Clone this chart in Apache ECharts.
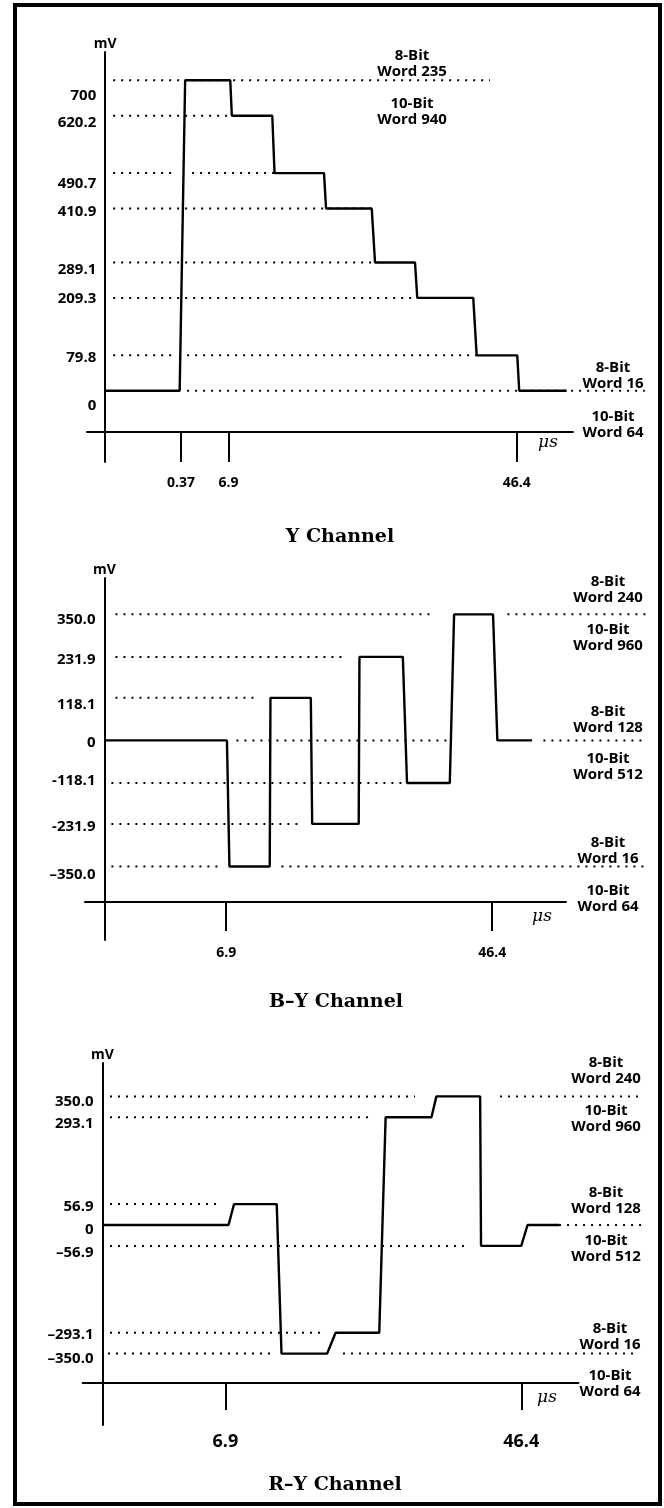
<!DOCTYPE html>
<html><head><meta charset="utf-8">
<script src="https://cdn.jsdelivr.net/npm/echarts@6/dist/echarts.min.js"></script>
<style>html,body{margin:0;padding:0;background:#fff}#c{width:664px;height:1508px}</style>
</head><body><div id="c"></div>
<script>
// ===== Y channel =====
const yTicks = [0.37, 6.9, 46.4];
const yTickLabels = ['0.37', '6.9', '46.4'];
const yLevels = [700, 620.2, 490.7, 410.9, 289.1, 209.3, 79.8, 0];
const yLevelLabels = ['700', '620.2', '490.7', '410.9', '289.1', '209.3', '79.8', '0'];
const yWaveT = [-10, 0.2, 0.95, 7.13, 7.35, 12.89, 13.2, 19.98, 20.26, 26.52, 26.97, 32.45, 32.76, 40.43, 40.9, 46.46, 46.73, 53.23];
const yWaveV = [0, 0, 700, 700, 620.2, 620.2, 490.7, 490.7, 410.9, 410.9, 289.1, 289.1, 209.3, 209.3, 79.8, 79.8, 0, 0];
const yDotV = [700, 620.2, 490.7, 490.7, 410.9, 289.1, 209.3, 79.8, 79.8, 0];
const yDotStart = [-8.92, -8.92, -8.92, 1.9, -8.92, -8.92, -8.92, -8.92, 1.22, 1.22];
const yDotEnd = [42.73, 7.38, -0.84, 20.26, 26.56, 26.97, 32.86, -0.7, 40.94, 63.95];
const yNotes = ['8-Bit\nWord 235', '10-Bit\nWord 940', '8-Bit\nWord 16', '10-Bit\nWord 64'];

// ===== B-Y channel =====
const byTicks = [6.9, 46.4];
const byTickLabels = ['6.9', '46.4'];
const byLevels = [350, 231.9, 118.1, 0, -118.1, -231.9, -350];
const byLevelLabels = ['350.0', '231.9', '118.1', '0', '-118.1', '-231.9', '\u2013350.0'];
const byWaveT = [-11.16, 7.02, 7.39, 13.37, 13.48, 19.47, 19.67, 26.58, 26.69, 33.13, 33.75, 40.1, 40.74, 46.52, 47.16, 52.31];
const byWaveV = [0, 0, -350, -350, 118.1, 118.1, -231.9, -231.9, 231.9, 231.9, -118.1, -118.1, 350, 350, 0, 0];
const byDotV = [350, 350, 231.9, 118.1, 0, 0, -118.1, -231.9, -350, -350];
const byDotStart = [-9.53, 48.65, -9.53, -9.53, 8.43, 54.0, -10.13, -10.13, -10.13, 15.11];
const byDotEnd = [37.96, 69.43, 24.46, 11.55, 40.34, 69.43, 33.66, 18.23, 6.2, 69.43];
const byNotes = ['8-Bit\nWord 240', '10-Bit\nWord 960', '8-Bit\nWord 128', '10-Bit\nWord 512', '8-Bit\nWord 16', '10-Bit\nWord 64'];

// ===== R-Y channel =====
const ryTicks = [6.9, 46.4];
const ryTickLabels = ['6.9', '46.4'];
const ryLevels = [350, 293.1, 56.9, 0, -56.9, -293.1, -350];
const ryLevelLabels = ['350.0', '293.1', '56.9', '0', '\u201356.9', '\u2013293.1', '\u2013350.0'];
const ryWaveT = [-9.51, 7.31, 8.05, 13.75, 14.39, 20.48, 21.61, 27.44, 28.29, 34.41, 35.07, 40.91, 41.03, 46.4, 47.24, 51.49];
const ryWaveV = [0, 0, 56.9, 56.9, -350, -350, -293.1, -293.1, 293.1, 293.1, 350, 350, -56.9, -56.9, 0, 0];
const ryDotV = [350, 350, 293.1, 56.9, 0, -56.9, -293.1, -350, -350];
const ryDotStart = [-8.51, 43.57, -8.51, -8.51, 51.45, -8.51, -8.51, -8.78, 22.6];
const ryDotEnd = [32.22, 61.99, 26.34, 6.45, 62.53, 39.03, 19.8, 12.99, 61.99];
const ryNotes = ['8-Bit\nWord 240', '10-Bit\nWord 960', '8-Bit\nWord 128', '10-Bit\nWord 512', '8-Bit\nWord 16', '10-Bit\nWord 64'];

const titles = ['Y Channel', 'B\u2013Y Channel', 'R\u2013Y Channel'];
const unitX = '\u03bcs';
const unitY = 'mV';

// ===== layout (pixels) =====
const SANS = '"Open Sans", "DejaVu Sans", sans-serif';
const SERIF = '"DejaVu Serif", serif';
const EXT_RIGHT = 652;
const panels = [
  { ticks: yTicks, tickLabels: yTickLabels, levels: yLevels, levelLabels: yLevelLabels,
    waveT: yWaveT, waveV: yWaveV, dotV: yDotV, dotS: yDotStart, dotE: yDotEnd, notes: yNotes,
    top: 52, bottomPx: 462, axisPx: 432, left: 87, right: 573, xmin: -12.5, xmax: 54.1, yAt: -10,
    ymin: -160.7, ymax: 763.8, tickLen: 30, labMargin: 44, tickFont: 14,
    labShift: [15, 7, 11, 3.5, 7.5, 0.5, 2.7, 15],
    notePos: [[412, 64], [412, 112], [613, 376], [613, 425]], unitPos: [548, 443], titlePos: [340, 537] },
  { ticks: byTicks, tickLabels: byTickLabels, levels: byLevels, levelLabels: byLevelLabels,
    waveT: byWaveT, waveV: byWaveV, dotV: byDotV, dotS: byDotStart, dotE: byDotEnd, notes: byNotes,
    top: 578, bottomPx: 940, axisPx: 902, left: 85, right: 566, xmin: -14.05, xmax: 57.35, yAt: -11.16,
    ymin: -554.3, ymax: 451.0, tickLen: 29, labMargin: 44, tickFont: 14,
    labShift: [5.6, 3.1, 7, 2.6, -2.2, 2.8, 8.6],
    notePos: [[608, 590], [608, 638], [608, 720], [608, 767], [608, 851], [608, 899]], unitPos: [542, 917], titlePos: [336, 1002] },
  { ticks: ryTicks, tickLabels: ryTickLabels, levels: ryLevels, levelLabels: ryLevelLabels,
    waveT: ryWaveT, waveV: ryWaveV, dotV: ryDotV, dotS: ryDotStart, dotE: ryDotEnd, notes: ryNotes,
    top: 1063, bottomPx: 1425, axisPx: 1382.5, left: 82.6, right: 578.4, xmin: -12.17, xmax: 54.03, yAt: -9.51,
    ymin: -544.3, ymax: 440.9, tickLen: 27.5, labMargin: 50, tickFont: 18,
    labShift: [5.3, 6.7, 2.6, 4.3, 7.1, 2.3, 4.7],
    notePos: [[606, 1071], [606, 1119], [606, 1201], [606, 1249], [610, 1337], [610, 1384]], unitPos: [547, 1398], titlePos: [335, 1485] }
];

const grid = [], xAxis = [], yAxis = [], series = [], graphic = [];
const labFont = { fontSize: 15, fontWeight: 'bold', color: '#000', fontFamily: SANS };
panels.forEach((p, i) => {
  const w = p.right - p.left;
  const pxPerUnit = w / (p.xmax - p.xmin);
  const yAxisPx = p.left + (p.yAt - p.xmin) * pxPerUnit;
  const h = p.bottomPx - p.top;
  // visible axes grid
  grid.push({ left: p.left, top: p.top, width: w, height: h, containLabel: false, outerBoundsMode: 'none' });
  // drawing grid with the same scale, wider so marks may run past the axis end
  grid.push({ left: p.left, top: p.top, width: EXT_RIGHT - p.left, height: h, containLabel: false, outerBoundsMode: 'none' });
  const gA = 2 * i, gB = 2 * i + 1;
  const rich = {};
  p.labShift.forEach((s, k) => {
    rich['s' + k] = Object.assign({}, labFont, { padding: s >= 0 ? [2 * s, 0, 0, 0] : [0, 0, -2 * s, 0] });
  });
  xAxis.push({
    gridIndex: gA, type: 'value', min: p.xmin, max: p.xmax, offset: -(p.bottomPx - p.axisPx),
    axisLine: { show: true, onZero: false, lineStyle: { color: '#000', width: 2 } },
    splitLine: { show: false },
    axisTick: { show: true, customValues: p.ticks, length: p.tickLen, lineStyle: { color: '#000', width: 2 } },
    axisLabel: { customValues: p.ticks, formatter: v => p.tickLabels[p.ticks.indexOf(v)],
      margin: p.labMargin, fontSize: p.tickFont, fontWeight: 'bold', color: '#000', fontFamily: SANS }
  });
  xAxis.push({ gridIndex: gB, type: 'value', min: p.xmin, max: p.xmin + (EXT_RIGHT - p.left) / pxPerUnit, show: false });
  yAxis.push({
    gridIndex: gA, type: 'value', min: p.ymin, max: p.ymax, offset: -(yAxisPx - p.left),
    axisLine: { show: true, onZero: false, lineStyle: { color: '#000', width: 2 } },
    splitLine: { show: false }, axisTick: { show: false },
    axisLabel: { customValues: p.levels, margin: 9, ...labFont,
      formatter: v => { const k = p.levels.indexOf(v); return '{s' + k + '|' + p.levelLabels[k] + '}'; },
      rich },
    name: unitY, nameLocation: 'end', nameGap: 1,
    nameTextStyle: { fontSize: 14, fontWeight: 'bold', color: '#000', fontFamily: SANS, align: 'center' }
  });
  yAxis.push({ gridIndex: gB, type: 'value', min: p.ymin, max: p.ymax, show: false });
  p.dotV.forEach((v, k) => {
    series.push({ type: 'line', xAxisIndex: gB, yAxisIndex: gB, data: [[p.dotS[k], v], [p.dotE[k], v]],
      showSymbol: false, silent: true, clip: false, z: 2,
      lineStyle: { color: '#000', width: 2, type: [2, 6] } });
  });
  series.push({ type: 'line', xAxisIndex: gB, yAxisIndex: gB, data: p.waveT.map((t, k) => [t, p.waveV[k]]),
    showSymbol: false, silent: true, clip: false, z: 5, lineStyle: { color: '#000', width: 2.4 } });
  p.notes.forEach((txt, k) => {
    graphic.push({ type: 'text', x: p.notePos[k][0], y: p.notePos[k][1], z: 10,
      style: { text: txt, fill: '#000', font: 'bold 15px ' + SANS, lineHeight: 16,
        textAlign: 'center', align: 'center', textVerticalAlign: 'middle', verticalAlign: 'middle' } });
  });
  graphic.push({ type: 'text', x: p.unitPos[0], y: p.unitPos[1], z: 10,
    style: { text: unitX, fill: '#000', font: 'italic 17px ' + SERIF,
      textAlign: 'center', align: 'center', textVerticalAlign: 'middle', verticalAlign: 'middle' } });
  graphic.push({ type: 'text', x: p.titlePos[0], y: p.titlePos[1], z: 10,
    style: { text: titles[i], fill: '#000', font: 'bold 19px ' + SERIF,
      textAlign: 'center', align: 'center', textVerticalAlign: 'middle', verticalAlign: 'middle' } });
});
graphic.push({ type: 'rect', z: 20, shape: { x: 15, y: 5, width: 645, height: 1499 },
  style: { fill: 'none', stroke: '#000', lineWidth: 4 } });

const chart = echarts.init(document.getElementById('c'), null, { renderer: 'canvas' });
chart.setOption({ animation: false, backgroundColor: '#fff', grid, xAxis, yAxis, series, graphic });
</script></body></html>
